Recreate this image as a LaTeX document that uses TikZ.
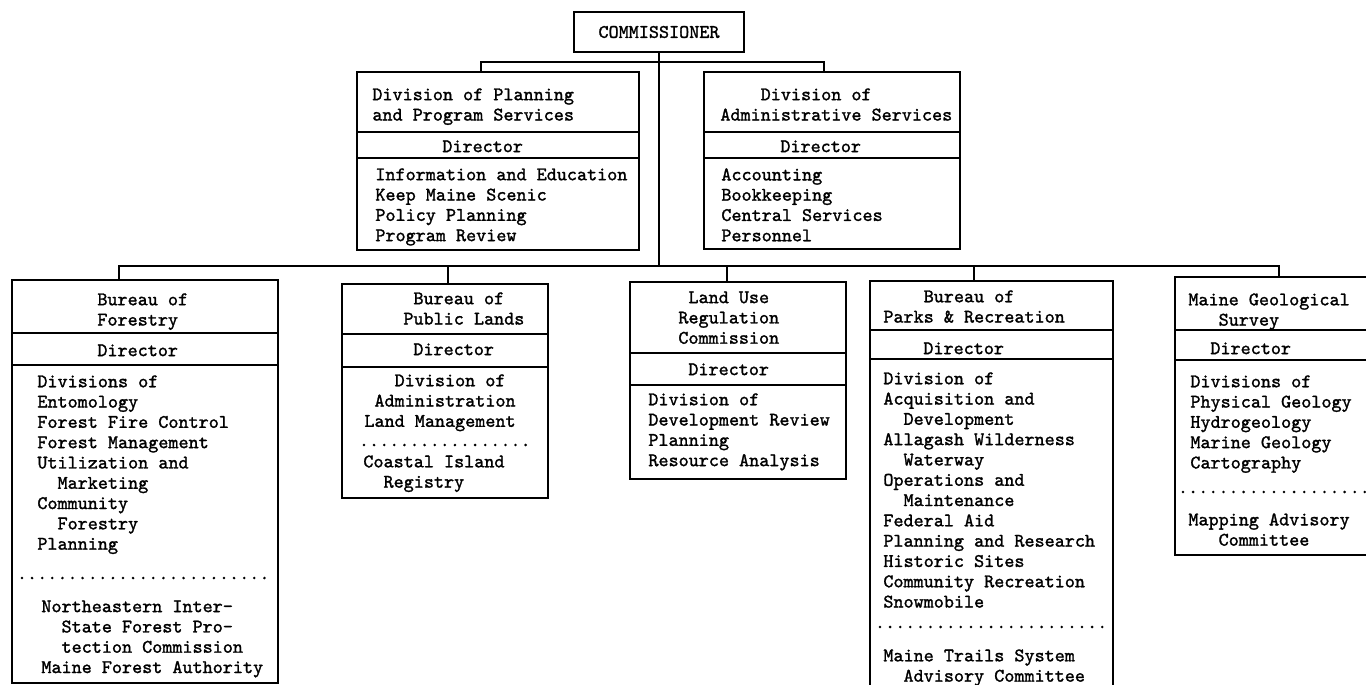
\documentclass[tikz,border=0pt]{standalone}
\usepackage{fontspec}
\setmonofont{lmmono10-regular.otf}[FakeBold=1.4]
\usetikzlibrary{fit}
\newcommand{\tyfont}{\ttfamily\fontsize{9.6}{10.15}\selectfont}

\begin{document}
\begin{tikzpicture}[x=0.5pt, y=-0.5pt,
    box/.style={draw, line width=1pt, inner sep=0pt},
    link/.style={line width=0.6pt},
    rule/.style={line width=0.8pt},
    dots/.style={line width=1.4pt, line cap=round, dash pattern=on 0pt off 5.05pt},
    txt/.style={inner sep=0pt, anchor=north west, align=left, yshift=-1pt, font=\tyfont}]
    \useasboundingbox (0,0) rectangle (1366,685);
    \clip (0,0) rectangle (1366,685);
    % commissioner
    \node[box, fit={(574,12) (744,52)}] (comm) {};
    \node[font=\tyfont, inner sep=0pt] (commtxt) at (comm.center) {COMMISSIONER};
    \coordinate (divbus) at (comm.south |- 0,62);
    \coordinate (burbus) at (comm.south |- 0,266);
    % divisions
    \node[box, fit={(357,72) (639,250)}] (plan) {};
    \draw[rule] (plan.west |- 0,132) -- (plan.east |- 0,132);
    \draw[rule] (plan.west |- 0,158) -- (plan.east |- 0,158);
    \node[txt] (plantitle) at (372,86) {Division of Planning\\and Program Services};
    \node[txt] (plandir) at (442,138) {Director};
    \node[txt] (planitems) at (375,166) {Information and Education\\Keep Maine Scenic\\Policy Planning\\Program Review};
    \node[box, fit={(704,72) (960,249)}] (admin) {};
    \draw[rule] (admin.west |- 0,132) -- (admin.east |- 0,132);
    \draw[rule] (admin.west |- 0,158) -- (admin.east |- 0,158);
    \node[txt] (admintitle) at (720,86) {\phantom{xxxx}Division of\\Administrative Services};
    \node[txt] (admindir) at (780,138) {Director};
    \node[txt] (adminitems) at (721,166) {Accounting\\Bookkeeping\\Central Services\\Personnel};
    \draw[link] (comm.south) -- (burbus);
    \draw[link] ([xshift=-8.5pt]plan.north) |- (divbus);
    \draw[link] ([xshift=-4pt]admin.north) |- (divbus);
    % bureau of forestry
    \node[box, fit={(12,280) (278,683)}] (forestry) {};
    \draw[rule] (forestry.west |- 0,333) -- (forestry.east |- 0,333);
    \draw[rule] (forestry.west |- 0,365) -- (forestry.east |- 0,365);
    \node[txt] (fortitle) at (97,291) {Bureau of\\Forestry};
    \node[txt] (fordir) at (97,342) {Director};
    \node[txt] (foritems) at (37,373) {Divisions of\\Entomology\\Forest Fire Control\\Forest Management\\Utilization and\\\phantom{xx}Marketing\\Community\\\phantom{xx}Forestry\\Planning};
    \draw[dots] (22,578) -- (272,578);
    \node[txt] (forboards) at (41,598) {Northeastern Inter-\\\phantom{xx}State Forest Pro-\\\phantom{xx}tection Commission\\Maine Forest Authority};
    % bureau of public lands
    \node[box, fit={(342,284) (548,498)}] (public) {};
    \draw[rule] (public.west |- 0,334) -- (public.east |- 0,334);
    \draw[rule] (public.west |- 0,367) -- (public.east |- 0,367);
    \node[txt] (pubtitle) at (403,290) {\phantom{x}Bureau of\\Public Lands};
    \node[txt] (pubdir) at (413,341) {Director};
    \node[txt] (pubitems) at (364,372) {\phantom{xxx}Division of\\\phantom{x}Administration\\Land Management};
    \draw[dots] (364,445) -- (532,445);
    \node[txt] (pubreg) at (363,453) {Coastal Island\\\phantom{xx}Registry};
    % land use regulation commission
    \node[box, fit={(630,282) (846,479)}] (landuse) {};
    \draw[rule] (landuse.west |- 0,353) -- (landuse.east |- 0,353);
    \draw[rule] (landuse.west |- 0,385) -- (landuse.east |- 0,385);
    \node[txt] (luctitle) at (678,289) {\phantom{x}Land Use\\Regulation\\Commission};
    \node[txt] (lucdir) at (688,361) {Director};
    \node[txt] (lucitems) at (648,391) {Division of\\Development Review\\Planning\\Resource Analysis};
    % bureau of parks
    \node[box, fit={(870,281) (1113,700)}] (parks) {};
    \draw[rule] (parks.west |- 0,330) -- (parks.east |- 0,330);
    \draw[rule] (parks.west |- 0,359) -- (parks.east |- 0,359);
    \node[txt] (parktitle) at (883,288) {\phantom{xxxx}Bureau of\\Parks \& Recreation};
    \node[txt] (parkdir) at (923,340) {Director};
    \node[txt] (parkitems) at (883,370) {Division of\\Acquisition and\\\phantom{xx}Development\\Allagash Wilderness\\\phantom{xx}Waterway\\Operations and\\\phantom{xx}Maintenance\\Federal Aid\\Planning and Research\\Historic Sites\\Community Recreation\\Snowmobile};
    \draw[dots] (880,627) -- (1108,627);
    \node[txt] (parkboard) at (883,647) {Maine Trails System\\\phantom{xx}Advisory Committee};
    % geological survey
    \node[box, fit={(1175,277) (1390,555)}] (geo) {};
    \draw[rule] (geo.west |- 0,330) -- (geo.east |- 0,330);
    \draw[rule] (geo.west |- 0,360) -- (geo.east |- 0,360);
    \node[txt] (geotitle) at (1188,291) {Maine Geological\\\phantom{xxx}Survey};
    \node[txt] (geodir) at (1210,340) {Director};
    \node[txt] (geoitems) at (1190,373) {Divisions of\\Physical Geology\\Hydrogeology\\Marine Geology\\Cartography};
    \draw[dots] (1183,492) -- (1366,492);
    \node[txt] (geoboard) at (1188,511) {Mapping Advisory\\\phantom{xxx}Committee};
    % bureau connectors
    \draw[link] ([xshift=-13pt]forestry.north) |- (burbus);
    \draw[link] ([xshift=1.5pt]public.north) |- (burbus);
    \draw[link] ([xshift=-5.5pt]landuse.north) |- (burbus);
    \draw[link] ([xshift=-8.75pt]parks.north) |- (burbus);
    \draw[link] ([xshift=-1.75pt]geo.north) |- (burbus);
\end{tikzpicture}
\end{document}
